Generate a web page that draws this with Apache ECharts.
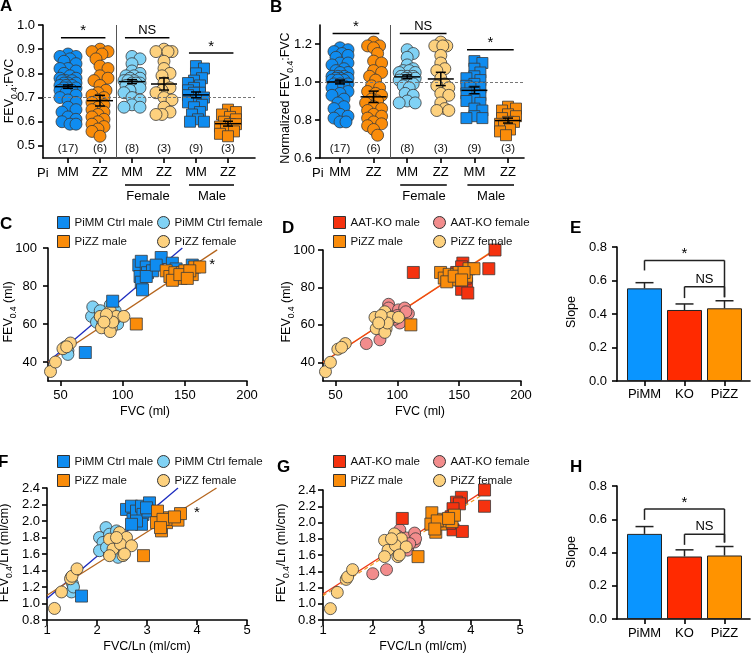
<!DOCTYPE html>
<html><head><meta charset="utf-8">
<script src="https://cdn.jsdelivr.net/npm/echarts@6/dist/echarts.min.js"></script>
<style>html,body{margin:0;padding:0;background:#fff}#c{width:752px;height:656px}</style>
</head><body><div id="c"></div>
<script>
const FONT = '"Liberation Sans", Arial, Helvetica, sans-serif';

// ---------- Panels A / B : dot plots ----------
const groupLabels = ['MM','ZZ','MM','ZZ','MM','ZZ'];
const groupCounts = ['(17)','(6)','(8)','(3)','(9)','(3)'];
const sigPairsAB = [[1,2,'*'],[3,4,'NS'],[5,6,'*']];

const A_MM  = [0.88,0.87,0.87,0.86,0.85,0.84,0.82,0.82,0.81,0.80,0.79,0.78,0.78,0.77,0.77,0.77,0.76,0.76,0.76,0.75,0.75,0.75,0.74,0.74,0.74,0.73,0.73,0.72,0.71,0.70,0.69,0.68,0.66,0.65,0.64,0.62,0.61,0.60,0.59,0.59];
const A_ZZ  = [0.90,0.89,0.89,0.88,0.86,0.83,0.82,0.79,0.78,0.77,0.75,0.73,0.72,0.71,0.70,0.69,0.68,0.67,0.66,0.65,0.64,0.63,0.62,0.61,0.60,0.59,0.58,0.57,0.56,0.54];
const A_MMf = [0.87,0.86,0.84,0.81,0.80,0.79,0.79,0.78,0.78,0.77,0.77,0.77,0.76,0.76,0.76,0.75,0.75,0.74,0.73,0.72,0.70,0.69,0.67,0.66,0.66];
const A_ZZf = [0.90,0.89,0.89,0.89,0.85,0.82,0.80,0.79,0.76,0.74,0.73,0.72,0.70,0.69,0.66,0.64,0.63,0.63];
const A_MMm = [0.83,0.82,0.80,0.78,0.77,0.76,0.75,0.74,0.73,0.72,0.72,0.71,0.70,0.69,0.68,0.67,0.66,0.64,0.63,0.61,0.60,0.60];
const A_ZZm = [0.65,0.64,0.63,0.62,0.61,0.60,0.59,0.59,0.58,0.57,0.56,0.55,0.54];
const A_mean = [0.745,0.687,0.766,0.756,0.711,0.592];
const A_sem  = [0.007,0.022,0.008,0.025,0.012,0.010];

const B_MM  = [1.18,1.17,1.16,1.15,1.14,1.13,1.10,1.10,1.09,1.07,1.06,1.05,1.05,1.03,1.03,1.03,1.02,1.02,1.02,1.01,1.01,1.01,0.99,0.99,0.99,0.98,0.98,0.97,0.95,0.94,0.93,0.91,0.89,0.87,0.86,0.83,0.82,0.81,0.79,0.79];
const B_ZZ  = [1.21,1.19,1.19,1.18,1.15,1.11,1.10,1.06,1.05,1.03,1.01,0.98,0.97,0.95,0.94,0.93,0.91,0.90,0.89,0.87,0.86,0.85,0.83,0.82,0.81,0.79,0.78,0.77,0.75,0.72];
const B_MMf = [1.17,1.15,1.13,1.09,1.07,1.06,1.06,1.05,1.05,1.03,1.03,1.03,1.02,1.02,1.02,1.01,1.01,0.99,0.98,0.97,0.94,0.93,0.90,0.89,0.89];
const B_ZZf = [1.21,1.19,1.19,1.19,1.14,1.10,1.07,1.06,1.02,0.99,0.98,0.97,0.94,0.93,0.89,0.86,0.85,0.85];
const B_MMm = [1.11,1.10,1.07,1.05,1.03,1.02,1.01,0.99,0.98,0.97,0.97,0.95,0.94,0.93,0.91,0.90,0.89,0.86,0.85,0.82,0.81,0.81];
const B_ZZm = [0.87,0.86,0.85,0.83,0.82,0.81,0.79,0.79,0.78,0.77,0.75,0.74,0.72];
const B_mean = [1.000,0.922,1.027,1.016,0.956,0.797];
const B_sem  = [0.010,0.030,0.010,0.035,0.018,0.013];

// ---------- Panels C / D : FEV0.4 vs FVC ----------
const C_PiMM_male   = [[113,91],[115,93],[119,90],[120,87],[124,88],[114,85],[115,82],[116,78],[119,85],[131,95],[140,92],[156,91],[127,91],[143,89],[92,72],[70,45]];
const C_PiMM_female = [[78,66],[75,64],[79,61],[82,64],[84,60],[90,70],[94,67],[95,63],[87,58],[76,69],[82,67],[91,61],[96,60],[56,46],[56,44],[54,48]];
const CD_PiZZ_male  = [[111,60],[135,88],[138,85],[142,87],[147,84],[148,87],[150,88],[156,86],[158,90],[140,83],[146,86],[162,90],[154,88],[152,84]];
const CD_PiZZ_female= [[42,35],[46,40],[52,47],[58,50],[82,64],[83,58],[90,67],[91,58],[90,56],[94,63],[95,64],[101,64],[92,61],[87,65],[85,61],[55,48]];
const D_KO_male     = [[113,88],[179,100],[174,90],[153,93],[152,91],[156,82],[152,79],[157,77],[148,88],[155,85],[151,84]];
const D_KO_female   = [[75,50],[86,52],[93,71],[93,69],[101,68],[106,69],[109,66],[100,65],[102,61],[98,63],[107,67],[91,66]];
const C_fit_PiMM = [[40,40],[148,100]];
const C_fit_PiZZ = [[40,40],[176,99]];
const D_fit_PiZZ = [[40,40],[176,99]];
const D_fit_KO   = [[40,40],[179,100]];

// ---------- Panels F / G : normalised by length ----------
const F_PiMM_male   = [[2.59,2.14],[2.69,2.18],[2.72,2.02],[2.79,2.12],[2.89,2.18],[2.92,2.08],[2.89,1.96],[2.79,2.00],[3.05,2.22],[3.02,2.12],[2.69,1.96],[2.99,2.16],[1.69,1.09]];
const F_PiMM_female = [[2.18,1.92],[2.05,1.80],[2.25,1.84],[2.12,1.74],[2.32,1.72],[2.05,1.64],[2.25,1.60],[2.42,1.56],[2.39,1.88],[2.45,1.80],[2.55,1.72],[2.19,1.68],[1.49,1.32],[1.51,1.24],[1.49,1.14],[1.53,1.20]];
const FG_PiZZ_male  = [[2.93,1.58],[3.21,2.12],[3.19,1.98],[3.29,1.88],[3.39,1.98],[3.45,2.04],[3.52,2.02],[3.62,2.01],[3.67,2.09],[3.32,2.02],[3.27,1.92],[3.55,2.05]];
const FG_PiZZ_female= [[1.15,0.94],[1.29,1.14],[1.47,1.30],[1.50,1.33],[1.60,1.42],[2.25,1.78],[2.32,1.66],[2.45,1.86],[2.59,1.80],[2.47,1.72],[2.69,1.70],[2.25,1.58],[2.52,1.58],[2.39,1.80],[2.55,1.60]];
const G_KO_male     = [[2.61,2.05],[4.28,2.40],[4.28,2.20],[3.81,2.31],[3.71,2.25],[3.77,2.23],[3.64,2.17],[3.60,2.07],[3.64,1.91],[3.83,1.89],[3.57,1.99]];
const G_KO_female   = [[2.01,1.37],[2.29,1.42],[2.56,1.91],[2.52,1.83],[2.69,1.81],[2.72,1.66],[2.62,1.70],[2.86,1.87],[2.86,1.76],[2.88,1.80],[2.76,1.74]];
const F_fit_PiMM = [[1,1.06],[3.62,2.40]];
const F_fit_PiZZ = [[1,1.10],[4.39,2.40]];
const G_fit_KO   = [[1,1.12],[4.32,2.41]];
const G_fit_PiZZ = [[1,1.10],[4.39,2.40]];

// ---------- Panels E / H : slopes ----------
const slopeCats = ['PiMM','KO','PiZZ'];
const E_slope = [0.553,0.424,0.434];
const E_sem   = [0.034,0.036,0.045];
const H_slope = [0.512,0.376,0.382];
const H_sem   = [0.044,0.040,0.054];
const E_brackets = [[1,3,0.72,0.66,0.50,'*'],[2,3,0.563,0.495,0.50,'NS']];
const H_brackets = [[1,3,0.662,0.596,0.46,'*'],[2,3,0.51,0.446,0.46,'NS']];

// ---------- styles ----------
const BLUE='#0f8cf0', ORANGE='#fa8c0a', LBLUE='#80d2f5', LORANGE='#fdd17e', RED='#f5320f', PINK='#f28c8c';
const BAR_COLORS = ['#0a95ff','#ff2a00','#ff9300'];
const EDGE = '#3a3a3a';
const groupStyle = [
  {symbol:'circle', color:BLUE, size:12},
  {symbol:'circle', color:ORANGE, size:12},
  {symbol:'circle', color:LBLUE, size:12},
  {symbol:'circle', color:LORANGE, size:12},
  {symbol:'rect', color:BLUE, size:11},
  {symbol:'rect', color:ORANGE, size:11}
];

const grids = [
  {left:43, top:25, width:212, height:133},   // A
  {left:320, top:25, width:204, height:133},  // B
  {left:48, top:248, width:199, height:133},  // C
  {left:323, top:250, width:198, height:131}, // D
  {left:617, top:247, width:133, height:134}, // E
  {left:47, top:488, width:200, height:132},  // F
  {left:323, top:490, width:197, height:130}, // G
  {left:617, top:486, width:133, height:133}  // H
];

function axBase(g, min, max, ticks, fmt, margin) {
  return {type:'value', gridIndex:g, min, max,
    axisLine:{show:true, onZero:false, lineStyle:{color:'#000', width:1.6}},
    axisTick:{show:true, length:5, customValues:ticks, lineStyle:{color:'#000', width:1.6}},
    axisLabel:{customValues:ticks, margin, color:'#000', fontSize:13, fontFamily:FONT, formatter:fmt},
    splitLine:{show:false}};
}
const f1 = v => v.toFixed(1), f0 = v => String(Math.round(v));
const grpFmt = v => groupLabels[Math.round(v)-1] || '';
const catFmt = v => slopeCats[Math.round(v)-1] || '';

const xAxes = [
  axBase(0, 0.219, 6.844, [1,2,3,4,5,6], grpFmt, 8),
  axBase(1, 0.405, 6.476, [1,2,3,4,5,6], grpFmt, 8),
  axBase(2, 40, 200, [50,100,150,200], f0, 8),
  axBase(3, 40, 200, [50,100,150,200], f0, 8),
  axBase(4, 0.3125, 3.6375, [1,2,3], catFmt, 7),
  axBase(5, 1, 5, [1,2,3,4,5], f0, 4),
  axBase(6, 1, 5, [1,2,3,4,5], f0, 4),
  axBase(7, 0.3125, 3.6375, [1,2,3], catFmt, 8)
];
const yAxes = [
  axBase(0, 0.45, 1.0, [0.5,0.6,0.7,0.8,0.9,1.0], f1, 8),
  axBase(1, 0.6, 1.3, [0.6,0.8,1.0,1.2], f1, 8),
  axBase(2, 30, 100, [40,60,80,100], f0, 11),
  axBase(3, 30, 100, [40,60,80,100], f0, 8),
  axBase(4, 0, 0.8, [0,0.2,0.4,0.6,0.8], f1, 10),
  axBase(5, 0.8, 2.4, [0.8,1.0,1.2,1.4,1.6,1.8,2.0,2.2,2.4], f1, 7),
  axBase(6, 0.8, 2.4, [0.8,1.0,1.2,1.4,1.6,1.8,2.0,2.2,2.4], f1, 7),
  axBase(7, 0, 0.8, [0,0.2,0.4,0.6,0.8], f1, 10)
];

// deterministic beeswarm layout (pixel space) for the dot plots
function swarm(values, pxPerY, pxPerX) {
  const placed = [], out = [];
  const step = 2, maxOff = 8, minD = 6.5;
  values.forEach(v => {
    const y = v * pxPerY;
    let best = 0, bestD = -1;
    for (let k = 0; k <= Math.round(maxOff/step)*2; k++) {
      const off = (k % 2 ? 1 : -1) * Math.ceil(k/2) * step;
      let d = Infinity;
      for (const p of placed) { const dd = Math.hypot(p[0]-off, p[1]-y); if (dd < d) d = dd; }
      if (d >= minD) { best = off; bestD = d; break; }
      if (d > bestD) { bestD = d; best = off; }
    }
    placed.push([best, y]);
    out.push(best / pxPerX);
  });
  return out;
}

const series = [];
function dotPanel(ax, groups, means, sems, yMin, pxPerY, pxPerX, refY, sigPad) {
  groups.forEach((vals, gi) => {
    const offs = swarm(vals, pxPerY, pxPerX);
    const st = groupStyle[gi];
    const s = {type:'scatter', xAxisIndex:ax, yAxisIndex:ax, symbol:st.symbol, symbolSize:st.size,
      itemStyle:{color:st.color, borderColor:EDGE, borderWidth:0.8, opacity:1},
      data: vals.map((v,i)=>[gi+1+offs[i], v]), z:3, silent:true};
    if (gi === 0) {
      s.markLine = {silent:true, symbol:'none', label:{show:false}, animation:false,
        data:[{yAxis:refY, lineStyle:{type:[3,2], color:'#777', width:1}},
              {xAxis:2.5, lineStyle:{type:'solid', color:'#555', width:1}}]};
    }
    series.push(s);
  });
  // mean +/- SEM
  series.push({type:'custom', xAxisIndex:ax, yAxisIndex:ax, z:6, silent:true,
    data: means.map((m,i)=>[i+1, m, sems[i]]), encode:{x:0, y:1},
    renderItem(params, api) {
      const x = api.value(0), m = api.value(1), s = api.value(2);
      const c = api.coord([x,m]), t = api.coord([x,m+s]), b = api.coord([x,m-s]);
      const st = {stroke:'#000', lineWidth:1.5};
      return {type:'group', children:[
        {type:'line', shape:{x1:c[0]-13, y1:c[1], x2:c[0]+13, y2:c[1]}, style:st},
        {type:'line', shape:{x1:c[0], y1:t[1], x2:c[0], y2:b[1]}, style:st},
        {type:'line', shape:{x1:c[0]-5, y1:t[1], x2:c[0]+5, y2:t[1]}, style:st},
        {type:'line', shape:{x1:c[0]-5, y1:b[1], x2:c[0]+5, y2:b[1]}, style:st}]};
    }});
  // n counts
  series.push({type:'custom', xAxisIndex:ax, yAxisIndex:ax, z:6, silent:true,
    data: groupCounts.map((t,i)=>[i+1, yMin]), encode:{x:0, y:1},
    renderItem(params, api) {
      const c = api.coord([api.value(0), api.value(1)]);
      return {type:'text', x:c[0], y:c[1]-3, style:{text:groupCounts[params.dataIndex], align:'center', verticalAlign:'bottom', fill:'#111', fontSize:11.5, fontFamily:FONT}};
    }});
  // significance bars
  series.push({type:'custom', xAxisIndex:ax, yAxisIndex:ax, z:6, silent:true,
    data: sigPairsAB.map(p => [p[0]-0.22, p[1]+0.17, Math.max(...groups[p[0]-1], ...groups[p[1]-1]) + sigPad[p[0]===5?1:0]]),
    encode:{x:[0,1], y:2},
    renderItem(params, api) {
      const a = api.coord([api.value(0), api.value(2)]), b = api.coord([api.value(1), api.value(2)]);
      const lab = sigPairsAB[params.dataIndex][2];
      return {type:'group', children:[
        {type:'line', shape:{x1:a[0], y1:a[1], x2:b[0], y2:b[1]}, style:{stroke:'#000', lineWidth:1.5}},
        {type:'text', x:(a[0]+b[0])/2, y:a[1]-(lab==='*'?-1:1), style:{text:lab, align:'center', verticalAlign:'bottom', fill:'#000', fontSize:lab==='*'?15:13, fontFamily:FONT}}]};
    }});
}
dotPanel(0, [A_MM,A_ZZ,A_MMf,A_ZZf,A_MMm,A_ZZm], A_mean, A_sem, 0.45, 133/0.55, 32, 0.70, [0.047,0.054]);
dotPanel(1, [B_MM,B_ZZ,B_MMf,B_ZZf,B_MMm,B_ZZm], B_mean, B_sem, 0.6, 133/0.7, 33.6, 1.0, [0.045,0.06]);

function sc(ax, name, data, symbol, color, size) {
  return {type:'scatter', name, xAxisIndex:ax, yAxisIndex:ax, symbol, symbolSize:size||12, data, z:3, silent:true,
    itemStyle:{color, borderColor:EDGE, borderWidth:0.8, opacity:1}};
}
function fit(ax, data, color, type, w) {
  return {type:'line', xAxisIndex:ax, yAxisIndex:ax, data, symbol:'none', silent:true, z:2,
    lineStyle:{color, width:w||1.3, type:type||'solid'}};
}
// C
series.push(fit(2, C_fit_PiMM, '#1c2bbf'), fit(2, C_fit_PiZZ, '#b5651d'));
series.push(sc(2,'PiMM Ctrl female',C_PiMM_female,'circle',LBLUE), sc(2,'PiZZ female',CD_PiZZ_female,'circle',LORANGE),
            sc(2,'PiMM Ctrl male',C_PiMM_male,'rect',BLUE), sc(2,'PiZZ male',CD_PiZZ_male,'rect',ORANGE));
// D
series.push(fit(3, D_fit_PiZZ, '#f39a1e'), fit(3, D_fit_KO, '#ee4018'));
series.push(sc(3,'AAT-KO female',D_KO_female,'circle',PINK), sc(3,'PiZZ female',CD_PiZZ_female,'circle',LORANGE),
            sc(3,'AAT-KO male',D_KO_male,'rect',RED), sc(3,'PiZZ male',CD_PiZZ_male,'rect',ORANGE));
// F
series.push(fit(5, F_fit_PiMM, '#1c2bbf'), fit(5, F_fit_PiZZ, '#b5651d'));
series.push(sc(5,'PiMM Ctrl female',F_PiMM_female,'circle',LBLUE), sc(5,'PiZZ female',FG_PiZZ_female,'circle',LORANGE),
            sc(5,'PiMM Ctrl male',F_PiMM_male,'rect',BLUE), sc(5,'PiZZ male',FG_PiZZ_male,'rect',ORANGE));
// G
series.push(fit(6, G_fit_KO, '#ee3a18', 'solid', 1.4), fit(6, G_fit_PiZZ, '#f39a1e', [4,3], 1.2));
series.push(sc(6,'AAT-KO female',G_KO_female,'circle',PINK), sc(6,'PiZZ female',FG_PiZZ_female,'circle',LORANGE),
            sc(6,'AAT-KO male',G_KO_male,'rect',RED), sc(6,'PiZZ male',FG_PiZZ_male,'rect',ORANGE));

// E / H bars
function slopePanel(ax, vals, sems, brackets) {
  series.push({type:'bar', xAxisIndex:ax, yAxisIndex:ax, barWidth:35, silent:true, z:2,
    data: vals.map((v,i)=>({value:[i+1, v], itemStyle:{color:BAR_COLORS[i]}})),
    itemStyle:{borderColor:'#222', borderWidth:1}});
  series.push({type:'custom', xAxisIndex:ax, yAxisIndex:ax, z:4, silent:true,
    data: vals.map((v,i)=>[i+1, v, sems[i]]), encode:{x:0, y:1},
    renderItem(params, api) {
      const x = api.value(0), v = api.value(1), s = api.value(2);
      const b = api.coord([x,v]), t = api.coord([x,v+s]);
      const st = {stroke:'#222', lineWidth:1.5};
      return {type:'group', children:[
        {type:'line', shape:{x1:b[0], y1:b[1], x2:b[0], y2:t[1]}, style:st},
        {type:'line', shape:{x1:b[0]-9, y1:t[1], x2:b[0]+9, y2:t[1]}, style:st}]};
    }});
  series.push({type:'custom', xAxisIndex:ax, yAxisIndex:ax, z:4, silent:true,
    data: brackets.map(b=>[b[0], b[1], b[2], b[3], b[4]]), encode:{x:[0,1], y:[2,3,4]},
    renderItem(params, api) {
      const x1 = api.value(0), x2 = api.value(1), y = api.value(2);
      const p1 = api.coord([x1,y]), p2 = api.coord([x2,y]);
      const l1 = api.coord([x1, api.value(3)]), l2 = api.coord([x2, api.value(4)]);
      const lab = brackets[params.dataIndex][5];
      const st = {stroke:'#222', lineWidth:1.5};
      return {type:'group', children:[
        {type:'line', shape:{x1:p1[0], y1:p1[1], x2:p2[0], y2:p2[1]}, style:st},
        {type:'line', shape:{x1:l1[0], y1:p1[1], x2:l1[0], y2:l1[1]}, style:st},
        {type:'line', shape:{x1:l2[0], y1:p2[1], x2:l2[0], y2:l2[1]}, style:st},
        {type:'text', x:(p1[0]+p2[0])/2, y:p1[1]-(lab==='*'?-1:1), style:{text:lab, align:'center', verticalAlign:'bottom', fill:'#000', fontSize:lab==='*'?15:13, fontFamily:FONT}}]};
    }});
}
slopePanel(4, E_slope, E_sem, E_brackets);
slopePanel(7, H_slope, H_sem, H_brackets);

function leg(names, left, top) {
  return {orient:'vertical', left, top, padding:0, itemGap:6, itemWidth:12, itemHeight:12, data:names, selectedMode:false,
    textStyle:{fontSize:11.5, color:'#111', fontFamily:FONT}, itemStyle:{borderColor:'#333', borderWidth:1}};
}
const legends = [
  leg(['PiMM Ctrl male','PiZZ male'], 57, 216), leg(['PiMM Ctrl female','PiZZ female'], 157, 216),
  leg(['AAT-KO male','PiZZ male'], 333, 216), leg(['AAT-KO female','PiZZ female'], 433, 216),
  leg(['PiMM Ctrl male','PiZZ male'], 57, 455), leg(['PiMM Ctrl female','PiZZ female'], 157, 455),
  leg(['AAT-KO male','PiZZ male'], 333, 455), leg(['AAT-KO female','PiZZ female'], 433, 455)
];

const richSub = {m:{fontSize:12.5, lineHeight:16, verticalAlign:'top', fontFamily:FONT, fill:'#000'},
                 s:{fontSize:8.5, lineHeight:7, verticalAlign:'bottom', fontFamily:FONT, fill:'#000'}};
function ytitle(x, y, text) {
  return {type:'text', x, y, rotation:Math.PI/2, silent:true,
    style:{text, rich:richSub, align:'center', verticalAlign:'middle', fontFamily:FONT, fontSize:12.5, fill:'#000'}};
}
function txt(x, y, text, size, opts) {
  return Object.assign({type:'text', x, y, silent:true,
    style:Object.assign({text, fontSize:size, fontFamily:FONT, fill:'#000', align:'center', verticalAlign:'middle'}, opts||{})});
}
const letters = [['A',0,6],['B',270,7],['C',0,224],['D',282,228],['E',570,228],['F',-2,462],['G',277,467],['H',570,467]];
const graphic = [];
letters.forEach(l => graphic.push(txt(l[1], l[2], l[0], 17, {align:'left', fontWeight:'bold'})));
graphic.push(ytitle(11, 91, '{m|FEV}{s|0.4}{m|:FVC}'));
graphic.push(ytitle(287, 98, '{m|Normalized FEV}{s|0.4}{m|:FVC}'));
graphic.push(ytitle(10, 312, '{m|FEV}{s|0.4}{m| (ml)}'));
graphic.push(ytitle(288, 312, '{m|FEV}{s|0.4}{m| (ml)}'));
graphic.push(ytitle(573, 312, '{m|Slope}'));
graphic.push(ytitle(6, 553, '{m|FEV}{s|0.4}{m|/Ln (ml/cm)}'));
graphic.push(ytitle(283, 553, '{m|FEV}{s|0.4}{m|/Ln (ml/cm)}'));
graphic.push(ytitle(573, 552, '{m|Slope}'));
graphic.push(txt(145, 412, 'FVC (ml)', 12.5), txt(420, 412, 'FVC (ml)', 12.5));
graphic.push(txt(147, 647, 'FVC/Ln (ml/cm)', 12.5), txt(423, 647, 'FVC/Ln (ml/cm)', 12.5));
graphic.push(txt(37, 173, 'Pi', 13, {align:'left'}), txt(312, 173, 'Pi', 13, {align:'left'}));

const option = {
  backgroundColor:'#fff', animation:false,
  textStyle:{fontFamily:FONT},
  grid: grids, xAxis: xAxes, yAxis: yAxes, legend: legends, series, graphic
};
const chart = echarts.init(document.getElementById('c'));
chart.setOption(option);

// sex group underlines/labels and regression stars, placed through the axes
const extra = [];
[[0,0.45],[1,0.6]].forEach(([g, ymin]) => {
  [[3,4,'Female'],[5,6,'Male']].forEach(([a,b,lab]) => {
    const pa = chart.convertToPixel({gridIndex:g}, [a, ymin]);
    const pb = chart.convertToPixel({gridIndex:g}, [b, ymin]);
    extra.push({type:'line', silent:true, shape:{x1:pa[0]-7, y1:185, x2:pb[0]+6, y2:185}, style:{stroke:'#000', lineWidth:1.3}});
    extra.push(txt((pa[0]+pb[0])/2, 196, lab, 13));
  });
});
const sC = chart.convertToPixel({gridIndex:2}, [172, 92.6]);
const sF = chart.convertToPixel({gridIndex:5}, [4.0, 2.14]);
extra.push(txt(sC[0], sC[1]+3, '*', 15), txt(sF[0], sF[1]+3, '*', 15));
chart.setOption({graphic: graphic.concat(extra)});
</script></body></html>
